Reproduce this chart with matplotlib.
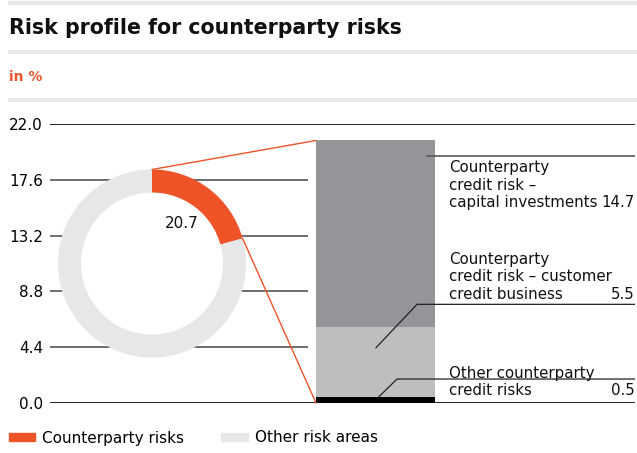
import matplotlib
matplotlib.use("Agg")
import matplotlib.pyplot as plt
from matplotlib.patches import Patch, Circle, ConnectionPatch
import numpy as np

# data
share_label = "20.7"
donut_values = [20.7, 79.3]
donut_colors = ["#EF5428", "#E6E7E8"]
legend_labels = ["Counterparty risks", "Other risk areas"]

seg_labels = ["Other counterparty\ncredit risks",
              "Counterparty\ncredit risk \u2013 customer\ncredit business",
              "Counterparty\ncredit risk \u2013\ncapital investments"]
seg_values = [0.5, 5.5, 14.7]
seg_colors = ["#000000", "#BCBEC0", "#939598"]
yticks = [0.0, 4.4, 8.8, 13.2, 17.6, 22.0]

W, H = 637, 453
fig = plt.figure(figsize=(W / 100, H / 100), dpi=100)
plt.rcParams['font.family'] = 'DejaVu Sans'

def fx(px):
    return px / W

def fy(py):
    return 1 - py / H

# header lines and title
for py in [3, 52, 100]:
    fig.add_artist(plt.Line2D([fx(10), 1], [fy(py), fy(py)], color="#E6E7E8", lw=3))
fig.text(fx(9), fy(28), "Risk profile for counterparty risks", fontsize=14.8,
         fontweight="bold", va="center", ha="left", color="#111111")
fig.text(fx(9), fy(77), "in %", fontsize=10, fontweight="bold", color="#EF5428",
         va="center", ha="left")

# main axes (x in pixel-like units)
ax = fig.add_axes([fx(50), fy(403), fx(585), 279 / H])
ax.set_xlim(50, 635)
ax.set_ylim(0, 22)
for s in ax.spines.values():
    s.set_visible(False)
ax.set_xticks([])
ax.set_yticks(yticks)
ax.set_yticklabels([f"{v:.1f}" for v in yticks], fontsize=11)
ax.tick_params(axis="y", length=0, pad=5)
ax.patch.set_alpha(0)

for v in yticks:
    if v in (0.0, 22.0):
        ax.hlines(v, 50, 635, color="black", lw=1.2, zorder=1)
    else:
        ax.hlines(v, 50, 308, color="#555555", lw=1.2, zorder=1)

bottoms = [sum(seg_values[:i]) for i in range(len(seg_values))]
ax.bar([375.5] * 3, seg_values, width=119, bottom=bottoms, color=seg_colors, zorder=2)
total = sum(seg_values)

# leader lines
ax.plot([427, 635], [19.5, 19.5], color="#58595B", lw=1.2, zorder=3)
ax.plot([376, 417, 635], [4.36, 7.78, 7.78], color="#222222", lw=0.9, zorder=3)
ax.plot([379, 397, 635], [0.5, 1.89, 1.89], color="#222222", lw=0.9, zorder=3)

# segment labels
fs = 10.8
label_tops = [2.95, 11.9, 19.15]
for lab, val, top in zip(seg_labels, seg_values, label_tops):
    ax.text(449, top, lab, fontsize=fs, va="top", ha="left", linespacing=1.2,
            color="#111111")
    nlines = lab.count("\n") + 1
    ax.annotate(f"{val:.1f}", (635, top), xytext=(0, -(nlines - 1) * 12.4),
                textcoords="offset points", fontsize=fs, va="top", ha="right",
                color="#111111")

# donut
dax = fig.add_axes([fx(58), fy(357.5), fx(188), 188 / H])
dax.pie(donut_values, colors=donut_colors, startangle=90, counterclock=False,
        radius=1, wedgeprops=dict(width=0.245, linewidth=0))
dax.add_patch(Circle((0, 0), 0.76, facecolor="white", edgecolor="none", zorder=0.5))
dax.set_xlim(-1, 1)
dax.set_ylim(-1, 1)
dax.set_aspect("equal")
dax.axis("off")
dax.text(0.32, 0.43, share_label, fontsize=11, ha="center", va="center", color="#111111")

theta = donut_values[0] / 100 * 2 * np.pi
p_end = (np.sin(theta), np.cos(theta))
for pa, pb in [((0, 1), (316, total)), (p_end, (316, 0))]:
    cp = ConnectionPatch(xyA=pa, coordsA=dax.transData, xyB=pb, coordsB=ax.transData,
                         color="#EF5428", lw=1.0, zorder=5)
    fig.add_artist(cp)

# legend
handles = [Patch(color=c) for c in donut_colors]
fig.legend(handles, legend_labels, loc="center left", bbox_to_anchor=(fx(-5), fy(438)),
           ncol=2, frameon=False, fontsize=11, handlelength=1.75, handleheight=0.5,
           handletextpad=0.45, columnspacing=2.4)

fig.savefig("out.png", dpi=100)
